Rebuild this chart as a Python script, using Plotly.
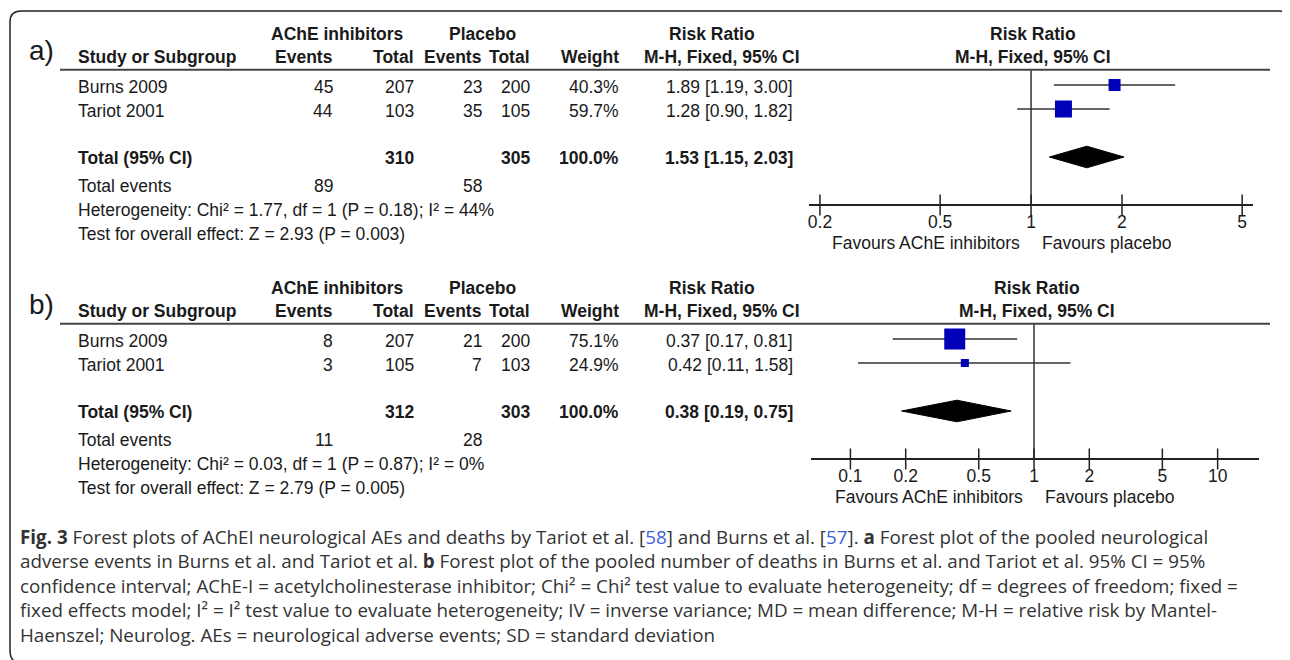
import plotly.graph_objects as go
import math

# browser body margin is 8px: the figure is sized and mapped to compensate
OFF = 8
W, H = 1290 - OFF, 660 - OFF

# ---------------- data ----------------
studies = ["Burns 2009", "Tariot 2001"]

a_ache_events = [45, 44]
a_ache_total = [207, 103]
a_plac_events = [23, 35]
a_plac_total = [200, 105]
a_weight = [40.3, 59.7]
a_rr = [1.89, 1.28]
a_lo = [1.19, 0.90]
a_hi = [3.00, 1.82]
a_sum_totals = [310, 305]
a_sum_ci = [1.53, 1.15, 2.03]
a_total_events = [89, 58]
a_het = [1.77, 1, 0.18, 44]      # Chi2, df, P, I2
a_overall = [2.93, "0.003"]      # Z, P
a_ticks = [0.2, 0.5, 1, 2, 5]

b_ache_events = [8, 3]
b_ache_total = [207, 105]
b_plac_events = [21, 7]
b_plac_total = [200, 103]
b_weight = [75.1, 24.9]
b_rr = [0.37, 0.42]
b_lo = [0.17, 0.11]
b_hi = [0.81, 1.58]
b_sum_totals = [312, 303]
b_sum_ci = [0.38, 0.19, 0.75]
b_total_events = [11, 28]
b_het = [0.03, 1, 0.87, 0]
b_overall = [2.79, "0.005"]
b_ticks = [0.1, 0.2, 0.5, 1, 2, 5, 10]

# ---------------- layout helpers ----------------
def PX(x):
    return (x - OFF) / W

def PY(y):
    return 1 - (y - OFF) / H

TXT = "#1a1a1a"
TFONT = "Liberation Sans, Arial, sans-serif"
FS = 17.5
ROW = 24.0
TOP_R = -0.64      # header rule
BOT_R = 5.0        # forest axis line
RANGE_TOP = -2.8
RANGE_BOT = 7.1
HDR1 = -2.12
HDR2 = -1.15

panels = [
    dict(label="a)", origin=85, xa="x", ya="y", xdom=(809, 1253), xr=(0.184, 5.43), line_x=1030,
         ev=a_ache_events, tot=a_ache_total, pev=a_plac_events, ptot=a_plac_total, w=a_weight,
         rr=a_rr, lo=a_lo, hi=a_hi, sumt=a_sum_totals, sumci=a_sum_ci, tev=a_total_events,
         het=a_het, ov=a_overall, ticks=a_ticks),
    dict(label="b)", origin=339, xa="x2", ya="y2", xdom=(811, 1259), xr=(0.061, 16.8), line_x=1034,
         ev=b_ache_events, tot=b_ache_total, pev=b_plac_events, ptot=b_plac_total, w=b_weight,
         rr=b_rr, lo=b_lo, hi=b_hi, sumt=b_sum_totals, sumci=b_sum_ci, tev=b_total_events,
         het=b_het, ov=b_overall, ticks=b_ticks),
]

# column positions (pixels)
C_STUDY = 76
C_EV1 = 335
C_TOT1 = 416
C_EV2 = 484
C_TOT2 = 532
C_W = 621
C_CI = 795
C_CIH = 802

fig = go.Figure()
annotations = []
shapes = []
layout_axes = {}


def ann(text, x, y, yref, xanchor="left", bold=False, size=FS, color=TXT, font=TFONT, xref="paper", xshift=0, yshift=0):
    if bold:
        text = "<b>" + text + "</b>"
    annotations.append(dict(text=text, x=x, y=y, xref=xref, yref=yref, xanchor=xanchor, yanchor="middle",
                            showarrow=False, font=dict(family=font, size=size, color=color),
                            xshift=xshift, yshift=yshift))


def fmt_ci(v):
    return f"{v[0]:.2f} [{v[1]:.2f}, {v[2]:.2f}]"


for p in panels:
    o = p["origin"]
    ya = p["ya"]
    xa = p["xa"]
    yname = "yaxis" if ya == "y" else "yaxis2"
    xname = "xaxis" if xa == "x" else "xaxis2"
    layout_axes[yname] = dict(domain=[PY(o + ROW * RANGE_BOT), PY(o + ROW * RANGE_TOP)],
                              range=[RANGE_BOT, RANGE_TOP], visible=False, anchor=xa, fixedrange=True)
    layout_axes[xname] = dict(type="log", domain=[PX(p["xdom"][0]), PX(p["xdom"][1])],
                              range=[math.log10(p["xr"][0]), math.log10(p["xr"][1])],
                              anchor="free", position=PY(o + ROW * BOT_R),
                              showline=True, linecolor="#222", linewidth=1.5, showgrid=False, zeroline=False,
                              tickvals=p["ticks"], ticktext=[f"{t:g}" for t in p["ticks"]],
                              ticks="outside", ticklen=1, tickcolor="rgba(0,0,0,0)",
                              tickfont=dict(family=TFONT, size=FS, color=TXT), fixedrange=True)
    yref = ya

    # panel label
    ann(p["label"], PX(27), -1.42, yref, size=28)
    # headers
    ann("AChE inhibitors", PX(337), HDR1, yref, xanchor="center", bold=True)
    ann("Placebo", PX(482), HDR1, yref, xanchor="center", bold=True)
    ann("Risk Ratio", PX(712), HDR1, yref, xanchor="center", bold=True)
    ann("Risk Ratio", PX(p["line_x"] + 3), HDR1, yref, xanchor="center", bold=True)
    ann("Study or Subgroup", PX(C_STUDY), HDR2, yref, bold=True)
    ann("Events", PX(C_EV1), HDR2, yref, xanchor="right", bold=True)
    ann("Total", PX(C_TOT1), HDR2, yref, xanchor="right", bold=True)
    ann("Events", PX(C_EV2), HDR2, yref, xanchor="right", bold=True)
    ann("Total", PX(C_TOT2), HDR2, yref, xanchor="right", bold=True)
    ann("Weight", PX(C_W), HDR2, yref, xanchor="right", bold=True)
    ann("M-H, Fixed, 95% CI", PX(C_CIH), HDR2, yref, xanchor="right", bold=True)
    ann("M-H, Fixed, 95% CI", PX(p["line_x"] + 3), HDR2, yref, xanchor="center", bold=True)

    # header rule
    shapes.append(dict(type="line", xref="paper", yref=yref, x0=PX(60), x1=PX(1270), y0=TOP_R, y1=TOP_R,
                       line=dict(color="#444", width=2)))

    # study rows
    for i, s in enumerate(studies):
        r = i
        ann(s, PX(C_STUDY), r, yref, yshift=-2)
        ann(str(p["ev"][i]), PX(C_EV1), r, yref, xanchor="right", yshift=-2)
        ann(str(p["tot"][i]), PX(C_TOT1), r, yref, xanchor="right", yshift=-2)
        ann(str(p["pev"][i]), PX(C_EV2), r, yref, xanchor="right", yshift=-2)
        ann(str(p["ptot"][i]), PX(C_TOT2), r, yref, xanchor="right", yshift=-2)
        ann(f"{p['w'][i]:.1f}%", PX(C_W), r, yref, xanchor="right", yshift=-2)
        ann(fmt_ci([p["rr"][i], p["lo"][i], p["hi"][i]]), PX(C_CI), r, yref, xanchor="right", yshift=-2)

    # total row
    rt = 3
    ann("Total (95% CI)", PX(C_STUDY), rt, yref, bold=True, yshift=-1)
    ann(str(p["sumt"][0]), PX(C_TOT1), rt, yref, xanchor="right", bold=True, yshift=-1)
    ann(str(p["sumt"][1]), PX(C_TOT2), rt, yref, xanchor="right", bold=True, yshift=-1)
    ann(f"{sum(p['w']):.1f}%", PX(C_W), rt, yref, xanchor="right", bold=True, yshift=-1)
    ann(fmt_ci(p["sumci"]), PX(C_CI), rt, yref, xanchor="right", bold=True, yshift=-1)

    # footer rows
    ann("Total events", PX(C_STUDY), 4.2, yref)
    ann(str(p["tev"][0]), PX(C_EV1), 4.2, yref, xanchor="right")
    ann(str(p["tev"][1]), PX(C_EV2), 4.2, yref, xanchor="right")
    h = p["het"]
    ann(f"Heterogeneity: Chi² = {h[0]:.2f}, df = {h[1]} (P = {h[2]:.2f}); I² = {h[3]}%", PX(C_STUDY), 5.2, yref)
    ann(f"Test for overall effect: Z = {p['ov'][0]:.2f} (P = {p['ov'][1]})", PX(C_STUDY), 6.2, yref)

    # favours labels
    ann("Favours AChE inhibitors", 0, 6.6, yref, xanchor="right", xref=xa, xshift=-9)
    ann("Favours placebo", 0, 6.6, yref, xanchor="left", xref=xa, xshift=9)

    # reference line at RR = 1
    fig.add_trace(go.Scatter(x=[1, 1], y=[TOP_R, BOT_R], xaxis=xa, yaxis=ya, mode="lines",
                             line=dict(color="#333", width=1.5), hoverinfo="skip", showlegend=False))
    # tick marks crossing the axis line
    fig.add_trace(go.Scatter(x=p["ticks"], y=[BOT_R] * len(p["ticks"]), xaxis=xa, yaxis=ya, mode="markers",
                             marker=dict(symbol="line-ns", size=15, line=dict(color="#222", width=1.5)),
                             cliponaxis=False, hoverinfo="skip", showlegend=False))
    # confidence intervals
    for i in range(len(studies)):
        fig.add_trace(go.Scatter(x=[p["lo"][i], p["hi"][i]], y=[i, i], xaxis=xa, yaxis=ya, mode="lines",
                                 line=dict(color="#333", width=1.5), hoverinfo="skip", showlegend=False))
    # weighted squares
    fig.add_trace(go.Scatter(x=p["rr"], y=list(range(len(studies))), xaxis=xa, yaxis=ya, mode="markers",
                             marker=dict(symbol="square", color="#0000b8", opacity=1,
                                         size=[1.6 + 0.258 * w for w in p["w"]], line=dict(width=0)),
                             hoverinfo="skip", showlegend=False))
    # pooled diamond
    e, lo, hi = p["sumci"]
    dh = 0.45
    fig.add_trace(go.Scatter(x=[lo, e, hi, e, lo], y=[rt, rt - dh, rt, rt + dh, rt], xaxis=xa, yaxis=ya,
                             mode="lines", fill="toself", fillcolor="#000", line=dict(color="#000", width=1),
                             hoverinfo="skip", showlegend=False))

# ---------------- caption ----------------
CAP_FONT = "Open Sans, Noto Sans, sans-serif"
CAP_FS = 18.8
CAP_COL = "#333"
blue = "#3d5fd6"
cap_lines = [
    f"<b>Fig. 3</b> Forest plots of AChEI neurological AEs and deaths by Tariot et al. [<span style='color:{blue}'>58</span>] and Burns et al. [<span style='color:{blue}'>57</span>]. <b>a</b> Forest plot of the pooled neurological",
    "adverse events in Burns et al. and Tariot et al. <b>b</b> Forest plot of the pooled number of deaths in Burns et al. and Tariot et al. 95% CI = 95%",
    "confidence interval; AChE-I = acetylcholinesterase inhibitor; Chi² = Chi² test value to evaluate heterogeneity; df = degrees of freedom; fixed =",
    "fixed effects model; I² = I² test value to evaluate heterogeneity; IV = inverse variance; MD = mean difference; M-H = relative risk by Mantel-",
    "Haenszel; Neurolog. AEs = neurological adverse events; SD = standard deviation",
]
annotations.append(dict(text="<br>".join(cap_lines), x=PX(18), y=PY(586), xref="paper", yref="paper",
                        xanchor="left", yanchor="middle", align="left", showarrow=False,
                        font=dict(family=CAP_FONT, size=CAP_FS, color=CAP_COL)))

# outer rounded frame (open at the bottom/right where the image is cropped)
def pt(x, y):
    return f"{PX(x):.5f},{PY(y):.5f}"

frame = (f"M {pt(16, 662)} Q {pt(10, 660)} {pt(10, 650)} L {pt(10, 22)} Q {pt(10, 11)} {pt(21, 11)} "
         f"L {pt(1279, 11)} Q {pt(1287, 11)} {pt(1291, 17)}")
shapes.append(dict(type="path", xref="paper", yref="paper", path=frame, line=dict(color="#222", width=1.5)))

fig.update_layout(width=W, height=H, margin=dict(l=0, r=0, t=0, b=0), paper_bgcolor="white",
                  plot_bgcolor="white", showlegend=False, annotations=annotations, shapes=shapes,
                  **layout_axes)

fig.write_html("out.html")
